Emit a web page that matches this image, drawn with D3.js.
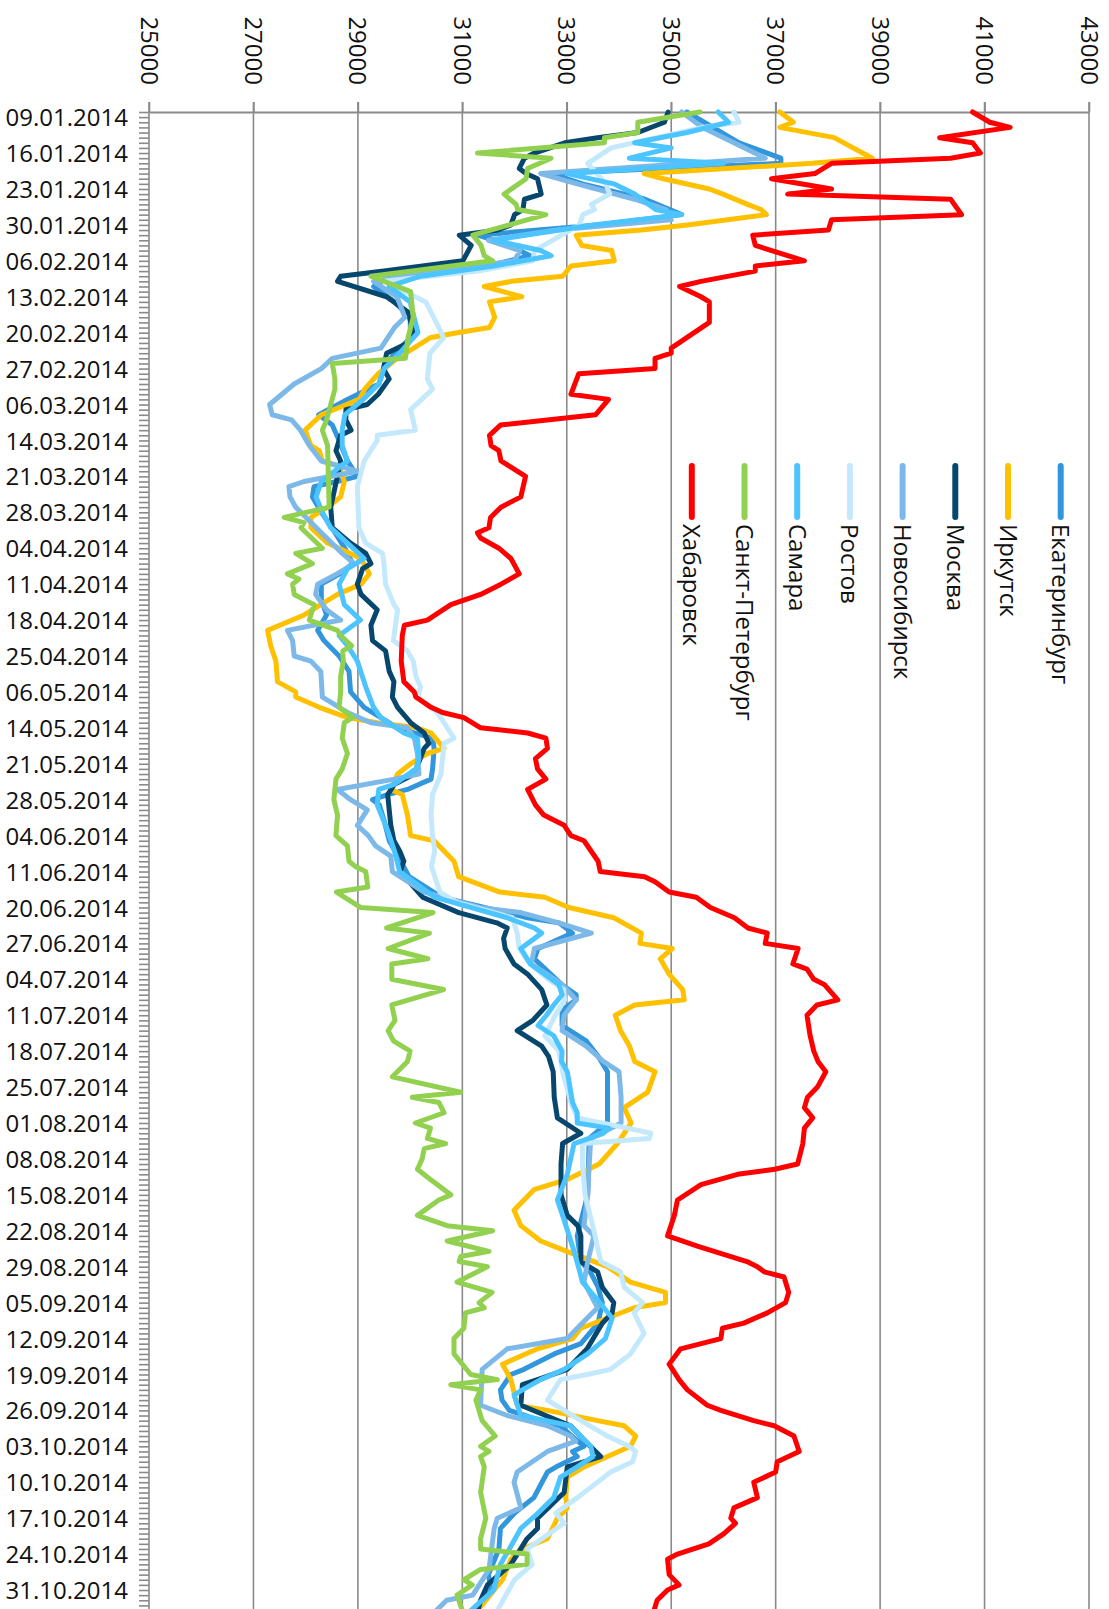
<!DOCTYPE html>
<html>
<head>
<meta charset="utf-8">
<script src="https://cdnjs.cloudflare.com/ajax/libs/d3/7.8.5/d3.min.js"></script>
<style>
  html, body { margin: 0; padding: 0; background: #fff; }
  svg { display: block; font-family: "Open Sans", "Noto Sans", sans-serif; }
</style>
</head>
<body>
<div id="chart"></div>
<script>
var width = 1109, height = 1609;

// tick labels (every 7th category)
var dateLabels = ['09.01.2014', '16.01.2014', '23.01.2014', '30.01.2014', '06.02.2014', '13.02.2014',
    '20.02.2014', '27.02.2014', '06.03.2014', '14.03.2014', '21.03.2014', '28.03.2014', '04.04.2014',
    '11.04.2014', '18.04.2014', '25.04.2014', '06.05.2014', '14.05.2014', '21.05.2014', '28.05.2014',
    '04.06.2014', '11.06.2014', '20.06.2014', '27.06.2014', '04.07.2014', '11.07.2014', '18.07.2014',
    '25.07.2014', '01.08.2014', '08.08.2014', '15.08.2014', '22.08.2014', '29.08.2014', '05.09.2014',
    '12.09.2014', '19.09.2014', '26.09.2014', '03.10.2014', '10.10.2014', '17.10.2014', '24.10.2014',
    '31.10.2014'];
var lastCategory = 292;
var valueTicks = [25000, 27000, 29000, 31000, 33000, 35000, 37000, 39000, 41000, 43000];

var cities = ['Екатеринбург', 'Иркутск', 'Москва', 'Новосибирск', 'Ростов', 'Самара', 'Санкт-Петербург', 'Хабаровск'];
var colors = ['#3296dc', '#ffc000', '#07476d', '#7db9e8', '#c4e9fc', '#4cc4ff', '#92d050', '#ff0000'];

// [category index, value]
var ekaterinburg = [[0,35300],[3,35800],[6,36300],[9,37100],[10,37100],[12,32700],[14,33300],[17,34500],[20,35200],[22,33600],[24,31300],[26,31900],[28,32300],[30,31500],[32,29600],[34,29300],[37,29700],[40,30000],[44,30010],[47,29700],[50,29500],[53,29400],[56,28800],[59,28250],[61,28510],[64,28640],[68,28800],[71,28990],[72,28600],[73,28160],[75,28130],[78,28300],[81,28500],[85,28750],[88,28900],[90,28650],[92,28300],[95,28300],[98,28400],[101,28230],[103,28350],[106,28640],[109,28830],[113,28860],[116,29120],[118,29440],[120,29760],[121,30080],[122,30430],[124,30460],[128,30430],[130,30400],[132,29950],[133,29570],[134,29280],[135,29410],[138,29500],[142,29600],[144,29710],[149,29980],[153,30600],[157,32250],[158,32850],[160,33110],[163,32450],[165,32380],[170,32900],[172,33180],[173,33180],[175,32910],[178,32910],[181,33370],[184,33600],[187,33780],[197,33780],[200,33430],[211,33400],[219,33200],[224,33270],[226,33450],[229,33600],[232,33680],[236,33600],[240,33270],[242,32760],[245,32180],[246,31930],[249,31730],[251,31760],[253,31900],[255,32500],[256,32880],[258,33100],[260,33330],[261,33110],[262,33200],[264,32800],[265,32630],[270,32370],[273,32000],[276,31730],[280,31700],[285,31500],[288,31550],[292,31200]];
var irkutsk = [[0,37080],[2,37340],[3,37080],[5,38120],[9,38850],[10,37700],[12,34480],[13,34850],[15,35730],[16,35990],[18,36460],[19,36720],[20,36820],[22,35310],[23,34430],[24,33180],[26,33290],[27,33860],[29,33910],[30,33080],[32,32920],[33,31940],[34,31420],[36,32140],[37,31520],[40,31620],[42,31520],[43,30900],[44,30380],[46,30070],[48,29750],[51,29390],[54,29130],[56,29030],[59,28300],[62,27990],[65,28100],[66,28260],[68,28320],[69,28640],[72,28740],[75,28670],[77,28420],[79,28100],[81,28100],[84,28420],[87,29060],[90,29220],[92,29060],[94,28610],[98,27970],[101,27270],[104,27330],[107,27430],[111,27460],[113,27810],[114,27810],[116,28260],[118,28800],[119,29370],[120,30140],[121,30400],[124,30650],[125,30330],[127,30010],[129,29760],[132,29630],[133,29850],[137,29950],[141,30010],[142,30460],[146,30840],[149,30930],[152,31720],[153,32580],[155,33040],[157,33900],[160,34430],[162,34400],[163,35020],[165,34790],[168,34960],[171,35220],[173,35250],[174,34300],[176,33930],[179,34030],[182,34200],[185,34300],[187,34690],[191,34550],[194,34100],[197,34230],[201,33970],[205,33620],[208,33010],[210,32370],[214,31990],[217,32120],[220,32500],[222,33000],[225,33780],[228,34220],[230,34890],[232,34890],[233,34290],[235,33780],[237,33270],[239,33110],[241,32440],[244,31770],[247,31930],[252,32050],[253,32630],[255,33590],[256,34100],[258,34320],[260,34220],[262,33780],[264,33330],[266,33010],[270,32980],[272,33010],[274,32820],[278,32630],[280,32150],[282,31930],[286,31770],[292,31290]];
var moskva = [[0,34940],[2,34870],[4,34360],[5,33590],[6,32960],[8,32380],[9,32190],[11,32090],[12,32220],[13,32440],[16,32510],[17,32190],[19,32160],[20,32000],[22,31930],[23,31680],[24,30940],[26,31170],[29,31010],[31,29500],[32,28670],[33,28610],[36,29550],[39,29960],[43,30070],[45,29960],[47,29550],[50,29490],[52,29600],[55,29390],[57,29180],[58,28770],[60,28770],[62,28870],[63,28670],[66,28580],[68,28670],[77,28480],[81,28510],[84,28860],[86,29150],[88,29250],[89,29090],[92,28990],[94,29060],[97,29370],[100,29250],[103,29280],[105,29530],[109,29600],[111,29690],[114,29660],[116,29760],[119,30010],[121,30270],[123,30360],[124,30270],[129,30080],[131,29700],[133,29570],[136,29600],[139,29630],[142,29690],[144,29800],[146,29880],[148,29810],[153,30240],[156,30930],[158,31660],[159,31860],[161,31790],[163,31820],[166,31990],[168,32250],[171,32520],[174,32620],[177,32350],[179,32050],[182,32520],[184,32650],[187,32740],[192,32760],[196,32820],[199,33270],[201,32920],[205,32890],[211,32890],[215,33010],[217,33210],[219,33270],[224,33270],[226,33590],[229,33680],[232,33900],[234,33870],[236,33680],[241,33390],[245,33010],[247,32440],[248,32150],[252,32120],[256,33070],[260,33450],[262,33650],[264,33010],[269,32950],[274,32440],[276,32440],[278,32240],[283,31930],[287,31480],[290,31350],[292,31300]];
var novosibirsk = [[0,35200],[3,35600],[6,36200],[9,36800],[12,32500],[14,33200],[17,34300],[19,34900],[21,35000],[23,32800],[25,31500],[27,32100],[29,32000],[31,30500],[33,29300],[36,29750],[40,29900],[42,29700],[46,29440],[48,28510],[50,28300],[53,27780],[57,27310],[59,27360],[60,27730],[62,27900],[65,28070],[68,28300],[70,28990],[72,27970],[73,27680],[75,27700],[77,27810],[82,28300],[86,28700],[88,28930],[90,28600],[92,28230],[94,28190],[97,28400],[99,28670],[101,27650],[103,27750],[106,27780],[107,28100],[109,28290],[114,28320],[115,28480],[117,28800],[119,29250],[120,29950],[122,30080],[125,30140],[129,30170],[130,29700],[132,28610],[134,28860],[136,29180],[139,28990],[141,29200],[143,29340],[145,29630],[148,29660],[152,30270],[155,31330],[156,32120],[158,32850],[160,33470],[163,32380],[166,32320],[170,32910],[173,33180],[176,32950],[179,32910],[182,33370],[185,33700],[187,34000],[192,34040],[197,34040],[200,33460],[205,33430],[211,33400],[217,33330],[219,33520],[224,33400],[228,33330],[233,33590],[237,33200],[239,33010],[241,31860],[245,31380],[252,31350],[254,31860],[256,32630],[258,33070],[259,33170],[261,32630],[265,32050],[267,31990],[272,32120],[274,31670],[276,31610],[284,31510],[289,31200],[290,30700],[292,30500]];
var rostov = [[0,36200],[2,36300],[3,35600],[7,33850],[10,33400],[14,33750],[16,33820],[18,33470],[19,33530],[20,33310],[22,33240],[24,32900],[27,32380],[29,32350],[31,31300],[33,29500],[35,29900],[37,30300],[42,30550],[44,30640],[47,30380],[52,30330],[54,30430],[58,30010],[62,30100],[63,29370],[64,29370],[68,29120],[73,28990],[81,29020],[84,29150],[86,29470],[88,29500],[92,29530],[96,29690],[97,29760],[103,29680],[105,29950],[107,30060],[110,30110],[112,30200],[114,30150],[117,30520],[122,30840],[123,30650],[126,30620],[129,30590],[133,30430],[137,30400],[141,30430],[144,30470],[147,30410],[152,30570],[154,30900],[157,31960],[160,32050],[163,32090],[166,32300],[169,32650],[171,32940],[173,32960],[176,32780],[180,32580],[183,32850],[187,32920],[193,33080],[196,33200],[198,34160],[199,34610],[200,34580],[201,33300],[205,33300],[211,33350],[218,33520],[224,33650],[226,34030],[229,34100],[232,34450],[234,34290],[238,34480],[242,34220],[245,33840],[246,33390],[247,32880],[251,32630],[255,33270],[258,33780],[260,34190],[261,34320],[263,34260],[265,33840],[268,33460],[270,33200],[273,32790],[275,32950],[280,32240],[283,32340],[286,32000],[292,31670]];
var samara = [[0,35900],[2,36100],[4,35300],[6,34300],[7,35000],[9,34200],[10,36000],[12,33000],[14,33900],[16,34300],[19,34700],[20,35200],[22,33500],[24,32200],[25,31600],[27,32500],[28,32700],[30,31600],[32,30200],[34,29600],[37,30000],[43,30150],[47,29800],[50,29500],[53,29400],[56,29100],[59,28750],[62,28700],[65,28700],[68,28800],[72,28300],[75,28200],[78,28320],[81,28480],[84,28800],[87,29120],[89,28800],[92,28640],[96,28740],[99,29050],[102,28640],[104,28800],[107,28990],[112,29150],[116,29300],[118,29440],[121,29880],[122,30140],[126,30170],[128,30110],[131,29700],[132,29400],[135,29370],[140,29570],[144,29700],[148,29800],[153,30470],[157,31860],[159,32380],[160,32520],[163,32120],[166,32300],[170,32850],[172,32910],[174,32750],[176,32610],[178,32450],[180,32750],[183,32910],[185,32900],[187,33010],[193,33110],[195,33200],[197,33200],[198,33800],[199,33700],[201,33140],[207,33010],[212,32820],[215,32920],[222,33140],[226,33250],[228,33300],[231,33550],[235,33870],[239,33740],[242,33400],[245,32950],[247,32500],[249,32150],[250,31990],[254,32120],[256,33070],[259,33360],[260,33460],[262,33500],[264,33200],[266,32880],[270,32750],[273,32450],[276,32120],[280,31900],[283,31730],[288,31600],[292,31160]];
var spb = [[0,35550],[2,34360],[4,34360],[5,33720],[6,33720],[8,31290],[9,32700],[11,32250],[13,32220],[16,31800],[18,32030],[19,32060],[20,32600],[22,31900],[24,31200],[26,31360],[28,31420],[29,31580],[32,29250],[35,30010],[40,30060],[44,29960],[48,29910],[49,28510],[52,28560],[54,28560],[60,28400],[62,28320],[65,28420],[77,28450],[79,27590],[80,27970],[81,27910],[85,28320],[86,27810],[88,28130],[90,27650],[91,27870],[92,27750],[94,27780],[96,28160],[99,28070],[101,28610],[102,28670],[104,28880],[105,28710],[107,28720],[110,28670],[113,28670],[116,28640],[118,28900],[119,28740],[122,28700],[125,28800],[128,28700],[130,28580],[134,28540],[137,28610],[141,28580],[143,28800],[146,28830],[147,28950],[148,29150],[151,29190],[152,28590],[155,29050],[156,30440],[159,29550],[160,30370],[163,29580],[165,30340],[166,29650],[169,29650],[171,30640],[174,29650],[177,29710],[179,29580],[181,29680],[183,30000],[185,29950],[188,29660],[191,30970],[192,30040],[193,30550],[195,30650],[197,30100],[198,30390],[200,30330],[201,30680],[202,30270],[204,30230],[206,30140],[208,30390],[211,30780],[212,30550],[215,30140],[217,30710],[218,31580],[220,30710],[222,31510],[223,30970],[224,30940],[225,31480],[228,30900],[230,31570],[232,31320],[233,31420],[234,31060],[237,31030],[239,30840],[242,30840],[246,31160],[247,31670],[248,30780],[249,31350],[251,31260],[255,31380],[258,31630],[260,31350],[261,31510],[262,31350],[264,31420],[269,31350],[274,31450],[278,31350],[280,31350],[281,32240],[283,32240],[284,31350],[286,31030],[287,31190],[289,30900],[292,31000]];
var khabarovsk = [[0,40770],[2,41100],[3,41490],[5,40140],[6,40770],[8,40920],[9,40350],[10,38070],[12,37750],[13,36920],[15,38070],[16,37230],[17,40350],[20,40560],[21,38070],[23,38010],[24,36560],[26,36610],[29,37550],[30,36610],[31,36610],[33,35570],[34,35160],[36,35570],[37,35730],[41,35730],[46,35000],[47,35000],[48,34690],[50,34690],[51,33230],[55,33080],[56,33800],[59,33550],[61,31730],[63,31520],[65,31550],[66,31700],[68,31740],[69,31900],[71,32210],[75,32120],[77,31740],[79,31540],[81,31510],[82,31290],[83,31350],[85,31700],[87,31930],[90,32090],[92,31740],[94,31350],[96,30780],[99,30330],[100,29890],[102,29850],[107,29830],[111,29880],[113,30080],[114,30110],[116,30400],[117,30620],[118,31030],[120,31350],[121,32250],[122,32600],[124,32630],[126,32400],[128,32440],[130,32600],[132,32250],[135,32400],[137,32560],[139,32950],[141,33080],[142,33330],[146,33600],[148,33640],[149,34490],[150,34690],[152,34960],[153,35480],[155,35750],[157,36210],[159,36470],[160,36840],[162,36800],[163,37430],[166,37330],[167,37600],[169,37730],[170,37930],[173,38190],[174,37790],[176,37600],[180,37660],[183,37730],[185,37810],[187,37960],[190,37800],[192,37610],[194,37550],[196,37710],[198,37550],[201,37520],[205,37420],[206,36980],[207,36270],[209,35570],[212,35120],[215,35060],[219,34930],[221,35500],[224,36450],[225,36650],[226,36780],[227,37160],[230,37250],[232,37190],[234,36840],[236,36390],[237,35980],[239,35950],[241,35180],[244,34960],[247,35150],[249,35310],[252,35690],[253,35950],[255,36580],[256,36970],[258,37350],[261,37450],[263,37030],[265,37000],[267,36580],[270,36650],[272,36200],[274,36140],[275,36230],[277,36010],[279,35720],[281,35120],[282,34930],[285,34960],[287,35150],[288,34930],[290,34730],[292,34670]];

var seriesData = [ekaterinburg, irkutsk, moskva, novosibirsk, rostov, samara, spb, khabarovsk];

var x = d3.scaleLinear().domain([25000, 43000]).range([149, 1089]);
var y = d3.scaleLinear().domain([0, 287]).range([112, 112 + 287 * 5.132]);

var svg = d3.select('#chart').append('svg')
    .attr('width', width)
    .attr('height', height);

// vertical gridlines (incl. the 25000 axis line)
svg.append('g').selectAll('line')
    .data(valueTicks)
    .enter()
    .append('line')
    .attr('x1', function (d) { return x(d); })
    .attr('x2', function (d) { return x(d); })
    .attr('y1', 102)
    .attr('y2', height)
    .attr('stroke', '#8a8a8a')
    .attr('stroke-width', 1.6);

// top value axis
var topAxis = svg.append('g')
    .attr('transform', 'translate(0,112)')
    .call(d3.axisTop(x).tickValues(valueTicks).tickSize(10).tickSizeOuter(0).tickFormat(''));
topAxis.select('.domain').attr('stroke', '#8a8a8a').attr('stroke-width', 2);
topAxis.selectAll('.tick line').attr('stroke', '#8a8a8a').attr('stroke-width', 1.6);

svg.append('g').selectAll('text')
    .data(valueTicks)
    .enter()
    .append('text')
    .attr('transform', function (d) { return 'translate(' + x(d) + ',85) rotate(90)'; })
    .attr('text-anchor', 'end')
    .attr('dy', '0.35em')
    .attr('font-size', 24)
    .attr('fill', '#111')
    .text(function (d) { return d; });

// category axis: a tick for every category, a label every 7th
var minorAxis = svg.append('g')
    .attr('transform', 'translate(149,0)')
    .call(d3.axisLeft(y).tickValues(d3.range(0, lastCategory + 1)).tickSize(10).tickSizeOuter(0).tickFormat(''));
minorAxis.select('.domain').remove();
minorAxis.selectAll('.tick line').attr('stroke', '#8a8a8a').attr('stroke-width', 1.6);

var labelAxis = svg.append('g')
    .attr('transform', 'translate(149,0)')
    .call(d3.axisLeft(y)
        .tickValues(dateLabels.map(function (d, k) { return k * 7; }))
        .tickSize(0)
        .tickPadding(21)
        .tickFormat(function (d) { return dateLabels[d / 7]; }));
labelAxis.select('.domain').remove();
labelAxis.selectAll('text')
    .attr('font-family', '"Open Sans", "Noto Sans", sans-serif')
    .attr('font-size', 24)
    .attr('fill', '#111')
    .attr('transform', 'translate(0,6)');

// lines
var line = d3.line()
    .x(function (d) { return x(d[1]); })
    .y(function (d) { return y(d[0]); });

svg.append('g').selectAll('path')
    .data(seriesData)
    .enter()
    .append('path')
    .attr('d', line)
    .attr('fill', 'none')
    .attr('stroke', function (d, i) { return colors[i]; })
    .attr('stroke-width', 5)
    .attr('stroke-linejoin', 'round')
    .attr('stroke-linecap', 'round');

// legend, right to left
var legend = svg.append('g').selectAll('g')
    .data(cities)
    .enter()
    .append('g')
    .attr('transform', function (d, i) { return 'translate(' + (1060.7 - i * 52.7) + ',0)'; });

legend.append('line')
    .attr('y1', 466)
    .attr('y2', 517)
    .attr('stroke', function (d, i) { return colors[i]; })
    .attr('stroke-width', 6)
    .attr('stroke-linecap', 'round');

legend.append('text')
    .attr('transform', 'translate(0,524) rotate(90)')
    .attr('dy', '0.35em')
    .attr('font-size', 24)
    .attr('fill', '#111')
    .text(function (d) { return d; });
</script>
</body>
</html>
